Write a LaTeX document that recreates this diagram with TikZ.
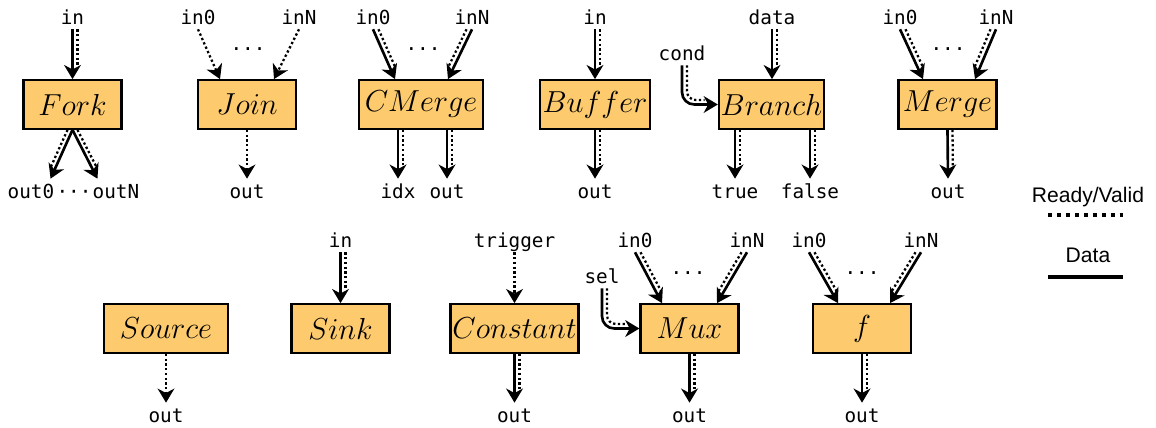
\documentclass[tikz,border=0pt]{standalone}
\usepackage{fontspec}
\setmonofont{DejaVu Sans Mono}
\newfontfamily\keyfont{Liberation Sans}
\usetikzlibrary{arrows.meta}

\definecolor{unitfill}{RGB}{253,203,110}

\tikzset{
  unit/.style={draw, line width=1.3pt, fill=unitfill, minimum width=1.96cm, minimum height=0.97cm, inner sep=1pt, font=\LARGE},
  port/.style={font=\ttfamily\fontsize{11}{13}\selectfont, inner sep=0pt, outer sep=3pt, anchor=base, text height=8pt, text depth=0pt},
  key/.style={font=\keyfont\fontsize{12}{14}\selectfont, inner sep=0pt, anchor=base},
  dat/.style={line width=1.5pt, -{Stealth[length=8pt, width=9.5pt, inset=2.5pt]}},
  rv/.style={line width=1.3pt, dash pattern=on 1.3pt off 1.4pt},
  rvtip/.style={rv, -{Stealth[length=8pt, width=9.5pt, inset=2.5pt]}},
}

% data wire with its ready/valid pair running alongside
\newcommand{\rvdata}[3][0.1cm]{%
  \draw[dat] (#2) -- (#3);
  \draw[rv, shorten >=7.5pt] ([xshift=#1]#2) -- ([xshift=#1]#3);
}

\begin{document}
\begin{tikzpicture}[x=0.02cm, y=-0.02cm]
\useasboundingbox (0,0) rectangle (1156,427);

% units, top row
\node[unit] (fork) at (72.5,104.5) {$Fork$};
\node[unit] (join) at (247,104.5) {$Join$};
\node[unit, minimum width=2.47cm] (cmerge) at (421,104.5) {$CMerge$};
\node[unit, minimum width=2.19cm] (buffer) at (595,104.5) {$Buffer$};
\node[unit, minimum width=2.05cm] (branch) at (771.5,104.5) {$Branch$};
\node[unit] (merge) at (947.5,104.5) {$Merge$};
% units, bottom row
\node[unit, minimum width=2.47cm] (source) at (166,328.5) {$Source$};
\node[unit] (sink) at (340.5,328.5) {$Sink$};
\node[unit, minimum width=2.55cm] (const) at (514.5,328.5) {$Constant$};
\node[unit] (mux) at (689.5,328.5) {$Mux$};
\node[unit] (func) at (862,328.5) {$f$};

% Fork
\node[port] (fork-in) at (72.5,24) {in};
\node[port] (fork-out0) at (31,198) {out0};
\node[port] (fork-dots) at (74,198) {···};
\node[port] (fork-outN) at (116,198) {outN};
\coordinate (fork-o0) at ([xshift=-0.18cm]fork-out0.north east);
\coordinate (fork-oN) at ([xshift=0.2cm]fork-outN.north west);
\rvdata{fork-in.south}{fork.north}
\rvdata[-0.1cm]{fork.south}{fork-o0}
\rvdata{fork.south}{fork-oN}

% Join
\node[port] (join-in0) at (198,24) {in0};
\node[port] (join-inN) at (299,24) {inN};
\node[port] (join-dots) at (248,50) {...};
\node[port] (join-out) at (247,198) {out};
\coordinate (join-a) at ([xshift=-0.54cm]join.north);
\coordinate (join-b) at ([xshift=0.54cm]join.north);
\draw[rvtip] (join-in0.south) -- (join-a);
\draw[rvtip] (join-inN.south) -- (join-b);
\draw[rvtip] (join.south) -- (join-out.north);

% CMerge
\node[port] (cmerge-in0) at (373,24) {in0};
\node[port] (cmerge-inN) at (472,24) {inN};
\node[port] (cmerge-dots) at (423,50) {...};
\node[port] (cmerge-idx) at (398,198) {idx};
\node[port] (cmerge-out) at (447,198) {out};
\coordinate (cmerge-a) at ([xshift=-0.52cm]cmerge.north);
\coordinate (cmerge-b) at ([xshift=0.54cm]cmerge.north);
\coordinate (cmerge-c) at (cmerge-idx |- cmerge.south);
\coordinate (cmerge-d) at (cmerge-out |- cmerge.south);
\rvdata[0.11cm]{cmerge-in0.south}{cmerge-a}
\rvdata[-0.11cm]{cmerge-inN.south}{cmerge-b}
\rvdata{cmerge-c}{cmerge-idx.north}
\rvdata{cmerge-d}{cmerge-out.north}

% Buffer
\node[port] (buffer-in) at (595,24) {in};
\node[port] (buffer-out) at (595,198) {out};
\rvdata{buffer-in.south}{buffer.north}
\rvdata{buffer.south}{buffer-out.north}

% Branch
\node[port] (branch-data) at (772,24) {data};
\node[port] (branch-cond) at (682,60) {cond};
\node[port] (branch-true) at (735,198) {true};
\node[port] (branch-false) at (810,198) {false};
\coordinate (branch-t) at (branch-true |- branch.south);
\coordinate (branch-f) at (branch-false |- branch.south);
\rvdata{branch-data.south}{branch-data |- branch.north}
\draw[dat, rounded corners=7pt] (branch-cond.south) |- (branch.west);
\draw[rv, rounded corners=5pt, shorten >=7.5pt] ([xshift=0.1cm]branch-cond.south) |- ([yshift=0.09cm]branch.west);
\rvdata{branch-t}{branch-true.north}
\rvdata{branch-f}{branch-false.north}

% Merge
\node[port] (merge-in0) at (900,24) {in0};
\node[port] (merge-inN) at (996,24) {inN};
\node[port] (merge-dots) at (948,50) {...};
\node[port] (merge-out) at (948,198) {out};
\coordinate (merge-a) at ([xshift=-0.49cm]merge.north);
\coordinate (merge-b) at ([xshift=0.55cm]merge.north);
\rvdata[0.11cm]{merge-in0.south}{merge-a}
\rvdata[-0.11cm]{merge-inN.south}{merge-b}
\rvdata{merge.south}{merge-out.north}

% Source and Sink
\node[port] (source-out) at (166,422) {out};
\draw[rvtip] (source.south) -- (source-out.north);
\node[port] (sink-in) at (340.5,247) {in};
\rvdata{sink-in.south}{sink.north}

% Constant
\node[port] (const-trig) at (514.5,247) {trigger};
\node[port] (const-out) at (514.5,422) {out};
\draw[rvtip] (const-trig.south) -- (const.north);
\rvdata{const.south}{const-out.north}

% Mux
\node[port] (mux-in0) at (635,247) {in0};
\node[port] (mux-inN) at (747,247) {inN};
\node[port] (mux-sel) at (602,283) {sel};
\node[port] (mux-dots) at (688,274) {...};
\node[port] (mux-out) at (689.5,422) {out};
\coordinate (mux-a) at ([xshift=-0.55cm]mux.north);
\coordinate (mux-b) at ([xshift=0.55cm]mux.north);
\rvdata[0.11cm]{mux-in0.south}{mux-a}
\rvdata[-0.11cm]{mux-inN.south}{mux-b}
\draw[dat, rounded corners=7pt] (mux-sel.south) |- (mux.west);
\draw[rv, rounded corners=5pt, shorten >=7.5pt] ([xshift=0.1cm]mux-sel.south) |- ([yshift=0.09cm]mux.west);
\rvdata{mux.south}{mux-out.north}

% f
\node[port] (func-in0) at (809,247) {in0};
\node[port] (func-inN) at (921,247) {inN};
\node[port] (func-dots) at (862,274) {...};
\node[port] (func-out) at (862,422) {out};
\coordinate (func-a) at ([xshift=-0.48cm]func.north);
\coordinate (func-b) at ([xshift=0.56cm]func.north);
\rvdata[0.11cm]{func-in0.south}{func-a}
\rvdata[-0.11cm]{func-inN.south}{func-b}
\rvdata{func.south}{func-out.north}

% key
\node[key] (key-rv) at (1088,202) {Ready/Valid};
\node[key] (key-data) at (1088,262) {Data};
\draw[line width=2.3pt, dash pattern=on 2.3pt off 2.8pt] (key-rv.base) ++(-40,13) -- ++(75,0);
\draw[line width=2.3pt] (key-data.base) ++(-40,15) -- ++(75,0);
\end{tikzpicture}
\end{document}
